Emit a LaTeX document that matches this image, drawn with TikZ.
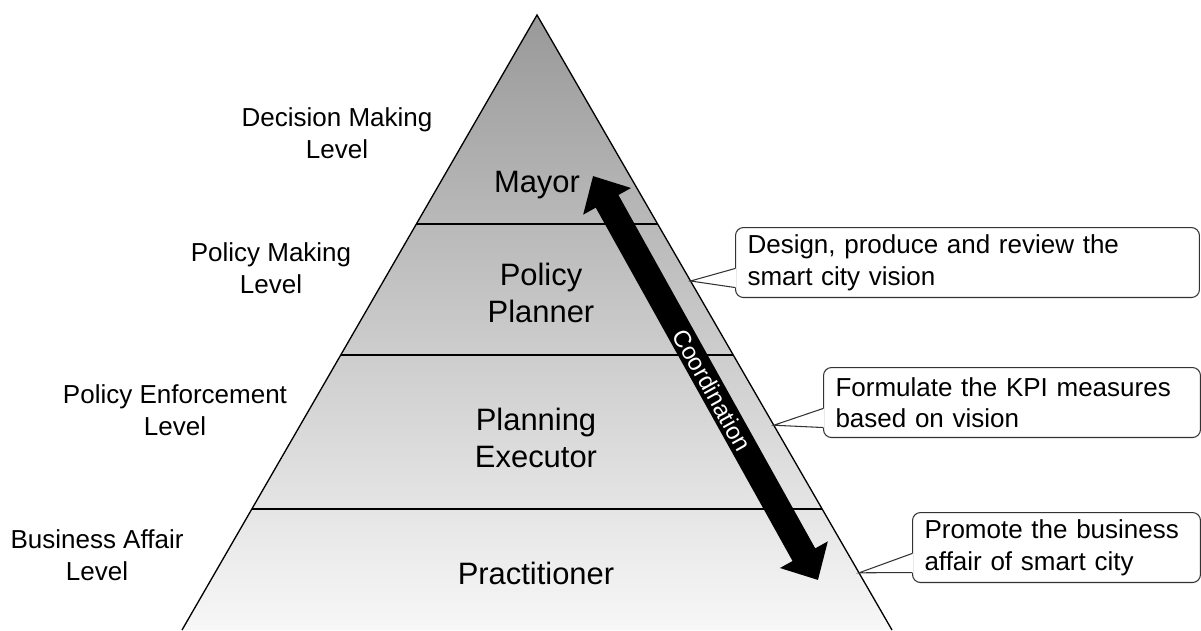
\documentclass[tikz,border=0pt]{standalone}
\usepackage{fontspec}
\setmainfont{Liberation Sans}
\usetikzlibrary{arrows.meta,calc,positioning}
\newcommand{\lvlfont}{\fontsize{14.8}{18}\selectfont}
\newcommand{\tierfont}{\fontsize{17.6}{21}\selectfont}

\begin{document}
\begin{tikzpicture}[x=0.02cm,y=-0.02cm,
    level/.style={align=center,font=\lvlfont},
    tier/.style={align=center,font=\tierfont},
    callout/.style={draw=black!80,line width=0.6pt,rounded corners=0.16cm,fill=white,anchor=north west,
      minimum height=1.4cm,inner xsep=0.24cm,align=left,font=\lvlfont}]
    \useasboundingbox (0,0) rectangle (1201,630);
    \coordinate (A) at (537,15);
    \coordinate (L) at (182,630);
    \coordinate (R) at (892,630);
    \shade[top color=black!40,bottom color=white!97!black] (A) -- (L) -- (R) -- cycle;
    \draw[line width=0.75pt] (L) -- (A) -- (R);
    \foreach \t in {0.34,0.553,0.803}
        \draw[line width=0.85pt] ($(A)!\t!(L)$) -- ($(A)!\t!(R)$);
    \node[tier] (mayor) at (537,185) {Mayor};
    \node[tier] (planner) at (541,293) {Policy\\Planner};
    \node[tier] (executor) at (536,438) {Planning\\Executor};
    \node[tier] (practitioner) at (536,573) {Practitioner};
    \node[level] (decision) at (337,133) {Decision Making\\Level};
    \node[level] (policy) at (271,268) {Policy Making\\Level};
    \node[level] (enforce) at (175,410) {Policy Enforcement\\Level};
    \node[level] (business) at (97,555) {Business Affair\\Level};
    \coordinate (up) at (593,176);
    \coordinate (down) at (818,580);
    \draw[line width=0.52cm,{Triangle[length=0.58cm,width=1.06cm]}-{Triangle[length=0.58cm,width=1.06cm]}]
        (up) -- node[sloped,pos=0.53,inner sep=0pt,text=white,font=\fontsize{13.6}{16}\selectfont] (coord) {Coordination} (down);
    \node[callout,text width=8.8cm] (vision) at (735,227) {Design, produce and review the\\smart city vision};
    \node[callout,text width=7.06cm] (kpi) at (823,367) {Formulate the KPI measures\\based on vision};
    \node[callout,text width=5.28cm] (affair) at (912,512) {Promote the business\\affair of smart city};
    \foreach \cl/\t in {vision/0.4325,kpi/0.667,affair/0.907}{
        \coordinate (\cl-tip) at ($(A)!\t!(R)$);
        \fill[white] ($(\cl.west)+(1,6)$) -- (\cl-tip) -- ($(\cl.west)+(1,25)$) -- cycle;
        \draw[black!80,line width=0.6pt] ($(\cl.west)+(0,6)$) -- (\cl-tip) -- ($(\cl.west)+(0,25)$);
    }
\end{tikzpicture}
\end{document}
